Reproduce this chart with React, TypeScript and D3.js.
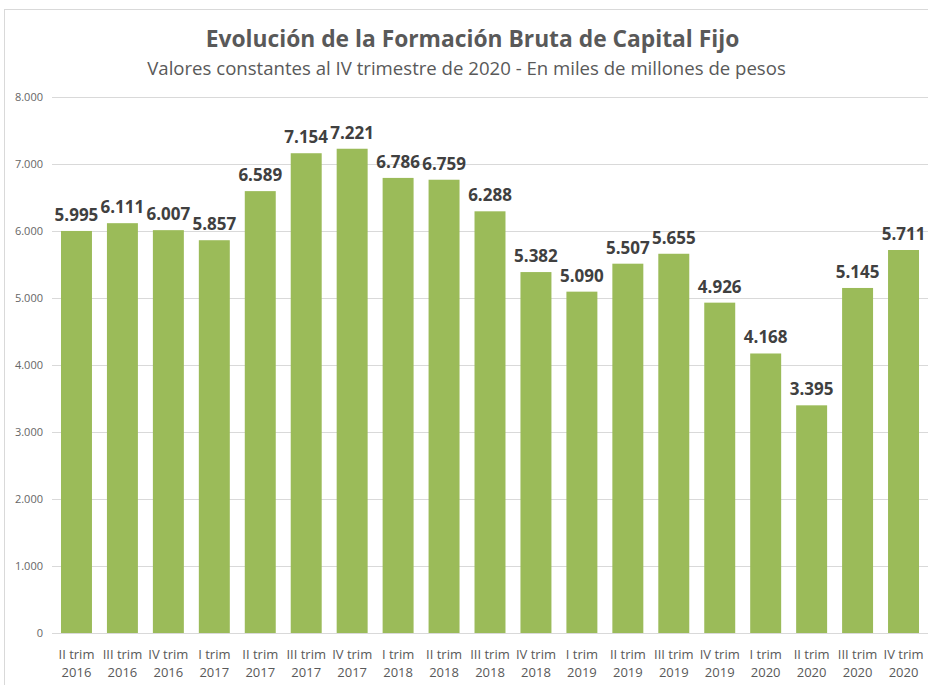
import React from "react";
import * as d3 from "d3";

const quarters = ["II trim", "III trim", "IV trim", "I trim", "II trim", "III trim", "IV trim", "I trim", "II trim", "III trim", "IV trim", "I trim", "II trim", "III trim", "IV trim", "I trim", "II trim", "III trim", "IV trim"];
const years = ["2016", "2016", "2016", "2017", "2017", "2017", "2017", "2018", "2018", "2018", "2018", "2019", "2019", "2019", "2019", "2020", "2020", "2020", "2020"];
const values = [5995, 6111, 6007, 5857, 6589, 7154, 7221, 6786, 6759, 6288, 5382, 5090, 5507, 5655, 4926, 4168, 3395, 5145, 5711];
const yTicks = [0, 1000, 2000, 3000, 4000, 5000, 6000, 7000, 8000];

const W = 928;
const H = 685;
const FONT = "'Open Sans', sans-serif";

export default function App() {
  const ids = values.map((_, i) => String(i));
  const x = d3.scaleBand<string>().domain(ids).range([53.5, 926.5]).paddingInner(0.326).paddingOuter(0.163);
  const y = d3.scaleLinear().domain([0, 8000]).range([633, 96.5]);
  const fmt = (v: number) => d3.format(",")(v).replace(/,/g, ".");

  return (
    <svg width={W} height={H} style={{ position: "absolute", left: 0, top: 0, background: "#fff" }} fontFamily={FONT}>
      <rect x={4.5} y={9.5} width={W + 10} height={H + 10} fill="#fff" stroke="#d9d9d9" strokeWidth={1} />
      <text x={472.5} y={47} textAnchor="middle" fontSize={22.8} fontWeight={700} fill="#595959">
        Evolución de la Formación Bruta de Capital Fijo
      </text>
      <text x={466.5} y={75} textAnchor="middle" fontSize={18.6} fill="#595959">
        Valores constantes al IV trimestre de 2020 - En miles de millones de pesos
      </text>
      {yTicks.map((t) => (
        <g key={t}>
          <line x1={52} x2={928} y1={Math.round(y(t)) + 0.5} y2={Math.round(y(t)) + 0.5} stroke="#d9d9d9" strokeWidth={1} />
          <text x={43} y={y(t) + 4} textAnchor="end" fontSize={11} fill="#666666">
            {fmt(t)}
          </text>
        </g>
      ))}
      {values.map((v, i) => (
        <rect key={"b" + i} x={x(String(i))} y={y(v)} width={x.bandwidth()} height={y(0) - y(v)} fill="#9BBB59" />
      ))}
      {values.map((v, i) => (
        <text key={"v" + i} x={(x(String(i)) as number) + x.bandwidth() / 2} y={y(v) - 10} textAnchor="middle" fontSize={17} fontWeight={700} fill="#404040">
          {fmt(v)}
        </text>
      ))}
      {values.map((_, i) => (
        <text key={"c" + i} x={(x(String(i)) as number) + x.bandwidth() / 2} y={659} textAnchor="middle" fontSize={13} fill="#595959">
          <tspan x={(x(String(i)) as number) + x.bandwidth() / 2}>{quarters[i]}</tspan>
          <tspan x={(x(String(i)) as number) + x.bandwidth() / 2} y={677}>{years[i]}</tspan>
        </text>
      ))}
    </svg>
  );
}
